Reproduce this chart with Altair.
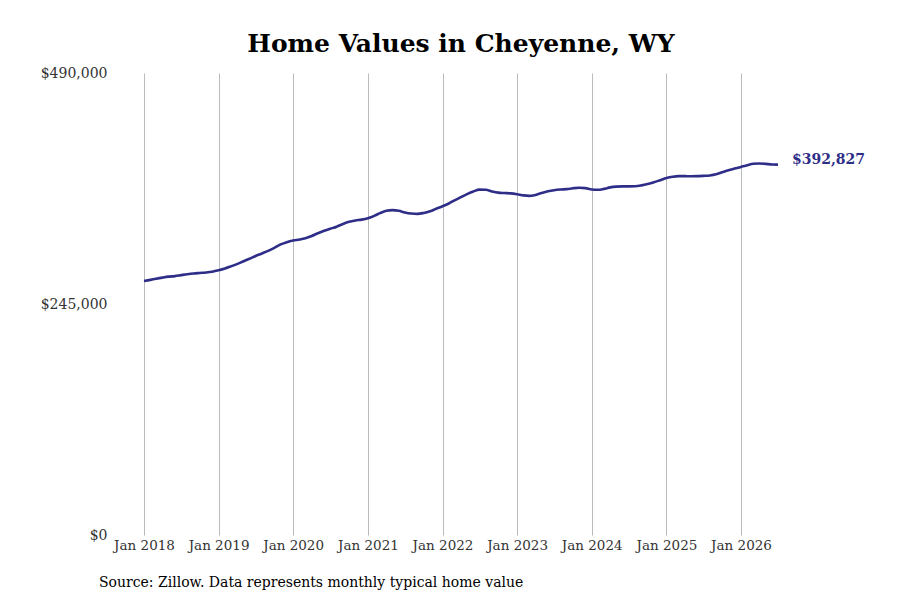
import altair as alt
import pandas as pd

values_2018 = [269400, 270600, 271800, 273000, 274000, 274600, 275600, 276600, 277400, 277900, 278400, 279200]
values_2019 = [280700, 282600, 284800, 287300, 290100, 293000, 295900, 298600, 301400, 304600, 308200, 310600]
values_2020 = [312300, 313400, 314800, 317200, 320100, 322700, 324800, 327000, 329900, 332200, 333600, 334500]
values_2021 = [336000, 338500, 341400, 343900, 344600, 343800, 342000, 340900, 340600, 341600, 343400, 346000]
values_2022 = [348600, 351600, 355000, 358400, 361600, 364400, 366300, 366100, 364300, 363100, 362700, 362300]
values_2023 = [361400, 360200, 359700, 360700, 362700, 364500, 365700, 366400, 366800, 367700, 368300, 367900]
values_2024 = [366500, 366100, 367100, 368700, 369500, 369800, 369800, 369900, 370800, 372200, 374100, 376300]
values_2025 = [378600, 380000, 380600, 380600, 380500, 380600, 380900, 381300, 382500, 384700, 386900, 388600]
values_2026 = [390400, 392200, 393700, 394000, 393600, 393000, 392827]

all_values = (values_2018 + values_2019 + values_2020 + values_2021 + values_2022
              + values_2023 + values_2024 + values_2025 + values_2026)
dates = pd.date_range("2018-01-01", periods=len(all_values), freq="MS")
df = pd.DataFrame({"date": dates, "value": all_values})
last = df.tail(1).copy()
last["label"] = "$392,827"

years = list(range(2018, 2027))
y_ticks = [0, 245000, 490000]

FONT = "DejaVu Serif"
LINE_COLOR = "#2e2e88"

x_enc = alt.X("date:T",
              scale=alt.Scale(domain=["2018-01-01", "2026-07-01"]),
              axis=alt.Axis(values=[alt.DateTime(year=y, month=1, date=1) for y in years],
                            format="%b %Y", title=None, grid=True, gridColor="#bbbbbb",
                            gridWidth=1, domain=False, ticks=False, labelPadding=3,
                            labelOverlap=False, labelFlush=False, labelFont=FONT,
                            labelFontSize=13.5, labelColor="#333333"))
y_enc = alt.Y("value:Q",
              scale=alt.Scale(domain=[0, 490000], nice=False),
              axis=alt.Axis(values=y_ticks, format="$,.0f", title=None, grid=False,
                            domain=False, ticks=False, labelPadding=37, labelFlush=False,
                            labelBaseline="middle",
                            labelFont=FONT, labelFontSize=14, labelColor="#333333",
                            minExtent=100, maxExtent=100))

line = alt.Chart(df).mark_line(color=LINE_COLOR, strokeWidth=2.6, interpolate="monotone").encode(
    x=x_enc, y=y_enc)

label = alt.Chart(last).mark_text(align="left", baseline="middle", dx=14, dy=-5, fontWeight="bold",
                                  font=FONT, fontSize=14, color=LINE_COLOR).encode(
    x="date:T", y="value:Q", text="label:N")

source = alt.Chart(pd.DataFrame({"t": ["Source: Zillow. Data represents monthly typical home value"]})).mark_text(
    align="left", baseline="middle", font=FONT, fontSize=14, color="#000000").encode(
    x=alt.value(-45), y=alt.value(510), text="t:N")

chart = alt.layer(line, label, source).properties(
    width=634, height=462,
    title=alt.TitleParams("Home Values in Cheyenne, WY", font=FONT, fontSize=25,
                          fontWeight="bold", color="#000000", anchor="middle", offset=9),
    padding={"left": 32, "top": 24, "right": 20, "bottom": 10},
).configure_view(stroke=None)

chart.save("out.html", embed_options={"renderer": "svg", "actions": False})
